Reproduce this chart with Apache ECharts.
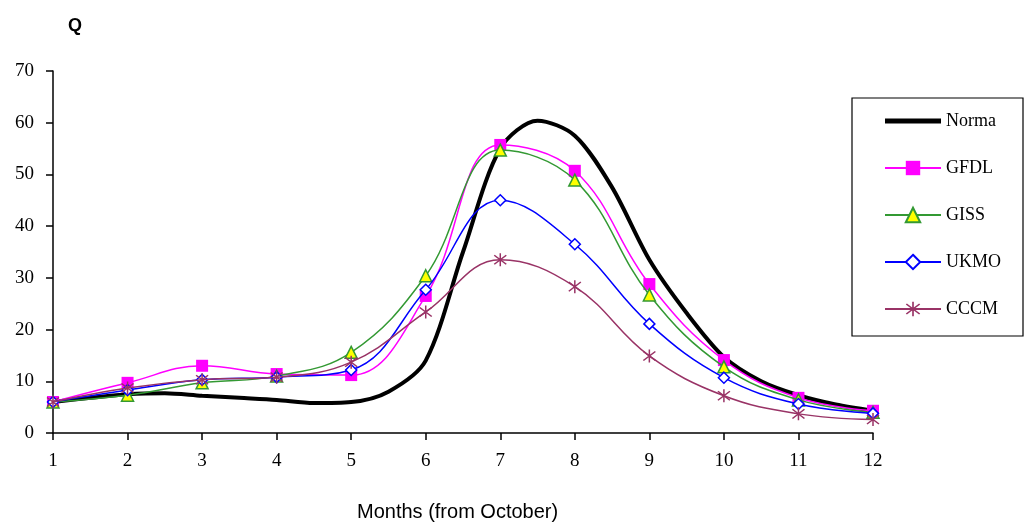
<!DOCTYPE html>
<html>
<head>
<meta charset="utf-8">
<script src="https://cdn.jsdelivr.net/npm/echarts@6/dist/echarts.min.js"></script>
<style>html,body{margin:0;padding:0;background:#fff;}#c{width:1032px;height:525px;}</style>
</head>
<body>
<div id="c"></div>
<script>
// Data
var months = [1,2,3,4,5,6,7,8,9,10,11,12];
var normaX = [1,1.5,2,2.5,3,3.5,4,4.5,5,5.5,6,6.5,7,7.5,8,8.5,9,9.5,10,10.5,11,11.5,12];
var normaY = [6.0,6.8,7.5,7.7,7.2,6.8,6.4,5.8,6.0,8.0,14.0,35.0,55.0,60.4,57.5,47.5,33.5,23.2,14.7,10.0,7.3,5.5,4.3];
var gfdl = [6.0,9.7,13.0,11.4,11.2,26.5,55.7,50.7,28.8,14.1,6.8,4.3];
var giss = [6.0,7.3,9.7,11.0,15.6,30.4,54.7,48.9,26.7,12.8,6.4,4.0];
var ukmo = [6.0,8.3,10.3,10.8,12.2,27.7,45.0,36.5,21.1,10.7,5.6,3.8];
var cccm = [6.0,8.7,10.3,10.8,13.7,23.4,33.5,28.3,14.9,7.2,3.7,2.6];
var yTicks = [0,10,20,30,40,50,60,70];

function pairs(xs, ys){ return xs.map(function(x,i){ return [x, ys[i]]; }); }

var asterisk = 'path://M9,0L11,0L11,20L9,20Z M2.66,2.25L18.66,16.25L17.34,17.75L1.34,3.75Z M17.34,2.25L18.66,3.75L2.66,17.75L1.34,16.25Z';
var serif = 'Liberation Serif';

var chart = echarts.init(document.getElementById('c'), null, {renderer:'canvas'});
chart.setOption({
  animation: false,
  backgroundColor: '#ffffff',
  title: {
    text: 'Q', left: 68, top: 17, padding: 0,
    textStyle: {fontFamily: 'Liberation Sans', fontWeight: 'bold', fontSize: 18, color: '#000'}
  },
  grid: {left: 53, right: 159, top: 71, bottom: 92, containLabel: false},
  xAxis: {
    type: 'value', min: 1, max: 12, interval: 1,
    axisLine: {lineStyle: {color: '#000', width: 1.5}},
    axisTick: {length: 7, lineStyle: {color: '#000', width: 1.5}},
    axisLabel: {fontFamily: serif, fontSize: 19, color: '#000', margin: 19,
      formatter: function(v){ return months.indexOf(v) >= 0 ? String(v) : ''; }},
    splitLine: {show: false}
  },
  yAxis: {
    type: 'value', min: yTicks[0], max: yTicks[yTicks.length-1], interval: 10,
    axisLine: {show: true, lineStyle: {color: '#000', width: 1.5}},
    axisTick: {show: true, length: 7, lineStyle: {color: '#000', width: 1.5}},
    axisLabel: {fontFamily: serif, fontSize: 19, color: '#000', margin: 19},
    splitLine: {show: false}
  },
  legend: {
    orient: 'vertical', left: 852, top: 98,
    padding: [14, 22, 18, 32], itemGap: 29, itemWidth: 56, itemHeight: 18,
    borderColor: '#000', borderWidth: 1.2,
    textStyle: {fontFamily: serif, fontSize: 18, color: '#000'},
    data: [
      {name: 'Norma', icon: 'path://M0,0L56,0L56,5L0,5Z'},
      'GFDL','GISS','UKMO','CCCM']
  },
  graphic: [{
    type: 'text', left: 357, top: 502,
    style: {text: 'Months (from October)', font: '20px "Liberation Sans"', fill: '#000'}
  }],
  series: [
    {name: 'Norma', type: 'line', data: pairs(normaX, normaY), smooth: 0.3,
      symbol: 'none', lineStyle: {color: '#000', width: 4}, itemStyle: {color: '#000'}, z: 2},
    {name: 'GFDL', type: 'line', data: pairs(months, gfdl), smooth: 0.4,
      symbol: 'rect', symbolSize: 12,
      lineStyle: {color: '#FF00FF', width: 1.5}, itemStyle: {color: '#FF00FF', borderWidth: 0}, z: 3},
    {name: 'GISS', type: 'line', data: pairs(months, giss), smooth: 0.4,
      symbol: 'triangle', symbolSize: 12,
      lineStyle: {color: '#339933', width: 1.5}, itemStyle: {color: '#FFFF00', borderColor: '#339933', borderWidth: 1.5}, z: 4},
    {name: 'UKMO', type: 'line', data: pairs(months, ukmo), smooth: 0.4,
      symbol: 'diamond', symbolSize: 11,
      lineStyle: {color: '#0000FF', width: 1.5}, itemStyle: {color: '#ffffff', borderColor: '#0000FF', borderWidth: 1.5}, z: 5},
    {name: 'CCCM', type: 'line', data: pairs(months, cccm), smooth: 0.4,
      symbol: asterisk, symbolSize: 13,
      lineStyle: {color: '#993366', width: 1.5}, itemStyle: {color: '#993366', borderWidth: 0}, z: 6}
  ]
});
</script>
</body>
</html>
